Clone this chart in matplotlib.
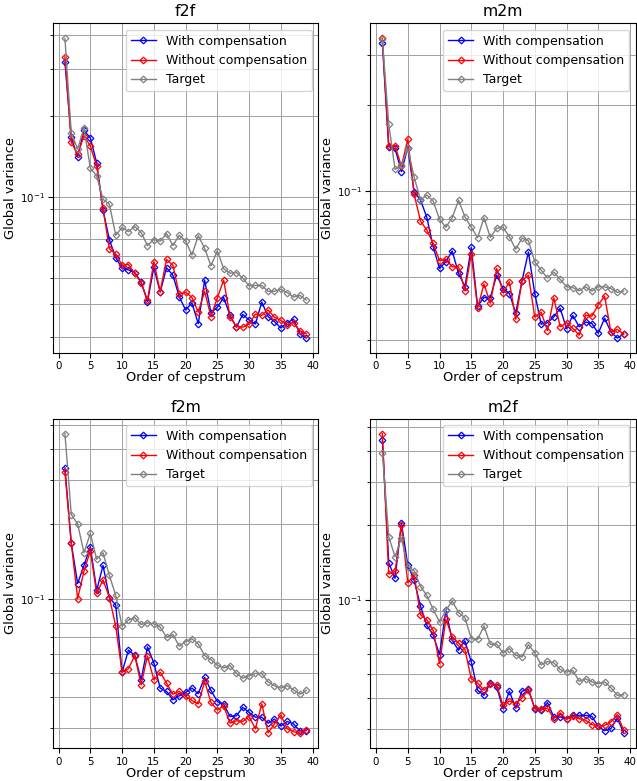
import numpy as np
import matplotlib
matplotlib.use("Agg")
import matplotlib.pyplot as plt

order = list(range(1, 40))

# f2f
f2f_with = [0.318, 0.167, 0.141, 0.177, 0.166, 0.134, 0.0892, 0.0693, 0.0594, 0.0542,
            0.0535, 0.0523, 0.0482, 0.0407, 0.0546, 0.0442, 0.0545, 0.0511, 0.0425, 0.0379,
            0.0403, 0.0337, 0.0490, 0.0370, 0.0388, 0.0422, 0.0362, 0.0327, 0.0365, 0.0348,
            0.0336, 0.0406, 0.0358, 0.0343, 0.0325, 0.0340, 0.0350, 0.0309, 0.0298]
f2f_without = [0.333, 0.160, 0.144, 0.169, 0.155, 0.130, 0.0908, 0.0641, 0.0612, 0.0557,
               0.0560, 0.0519, 0.0479, 0.0413, 0.0573, 0.0444, 0.0585, 0.0557, 0.0434, 0.0442,
               0.0422, 0.0372, 0.0445, 0.0358, 0.0421, 0.0490, 0.0358, 0.0329, 0.0327, 0.0336,
               0.0366, 0.0362, 0.0379, 0.0356, 0.0347, 0.0334, 0.0340, 0.0317, 0.0309]
f2f_target = [0.390, 0.173, 0.151, 0.181, 0.128, 0.120, 0.098, 0.094, 0.072, 0.077,
              0.0743, 0.0776, 0.0737, 0.0659, 0.0694, 0.0684, 0.0730, 0.0659, 0.0720, 0.0686,
              0.0608, 0.0718, 0.0643, 0.0554, 0.0630, 0.0540, 0.0520, 0.0523, 0.0499, 0.0466,
              0.0468, 0.0468, 0.0445, 0.0445, 0.0453, 0.0440, 0.0424, 0.0430, 0.0413]

# m2m
m2m_with = [0.330, 0.143, 0.141, 0.117, 0.142, 0.0995, 0.0930, 0.0809, 0.0638, 0.0535,
            0.0565, 0.0616, 0.0514, 0.0462, 0.0634, 0.0395, 0.0423, 0.0422, 0.0507, 0.0455,
            0.0437, 0.0373, 0.0485, 0.0611, 0.0437, 0.0341, 0.0345, 0.0362, 0.0388, 0.0329,
            0.0366, 0.0334, 0.0347, 0.0343, 0.0317, 0.0358, 0.0320, 0.0305, 0.0315]
m2m_without = [0.343, 0.144, 0.144, 0.122, 0.152, 0.0976, 0.0785, 0.0730, 0.0655, 0.0570,
               0.0577, 0.0542, 0.0542, 0.0447, 0.0601, 0.0388, 0.0472, 0.0404, 0.0535, 0.0440,
               0.0480, 0.0355, 0.0485, 0.0507, 0.0361, 0.0376, 0.0324, 0.0422, 0.0334, 0.0345,
               0.0330, 0.0312, 0.0367, 0.0364, 0.0399, 0.0428, 0.0320, 0.0327, 0.0315]
m2m_target = [0.340, 0.172, 0.119, 0.123, 0.141, 0.112, 0.0930, 0.0968, 0.0922, 0.0796,
              0.0746, 0.0806, 0.0928, 0.0812, 0.0747, 0.0686, 0.0806, 0.0688, 0.0740, 0.0747,
              0.0691, 0.0625, 0.0684, 0.0669, 0.0565, 0.0528, 0.0495, 0.0520, 0.0490, 0.0462,
              0.0458, 0.0447, 0.0461, 0.0446, 0.0462, 0.0461, 0.0455, 0.0441, 0.0446]

# f2m
f2m_with = [0.336, 0.167, 0.115, 0.136, 0.162, 0.108, 0.136, 0.101, 0.0942, 0.0505,
            0.0620, 0.0591, 0.0471, 0.0639, 0.0551, 0.0436, 0.0423, 0.0391, 0.0406, 0.0419,
            0.0436, 0.0414, 0.0482, 0.0427, 0.0385, 0.0376, 0.0335, 0.0337, 0.0365, 0.0348,
            0.0333, 0.0333, 0.0315, 0.0327, 0.0307, 0.0320, 0.0313, 0.0293, 0.0294]
f2m_without = [0.324, 0.167, 0.100, 0.129, 0.156, 0.105, 0.119, 0.101, 0.0775, 0.0505,
               0.0522, 0.0590, 0.0450, 0.0587, 0.0471, 0.0505, 0.0457, 0.0412, 0.0423, 0.0404,
               0.0389, 0.0377, 0.0464, 0.0382, 0.0356, 0.0370, 0.0315, 0.0322, 0.0320, 0.0335,
               0.0299, 0.0377, 0.0288, 0.0313, 0.0340, 0.0299, 0.0291, 0.0287, 0.0296]
f2m_target = [0.462, 0.218, 0.200, 0.153, 0.183, 0.144, 0.153, 0.124, 0.103, 0.0775,
              0.0820, 0.0838, 0.0787, 0.0799, 0.0792, 0.0768, 0.0700, 0.0717, 0.0643, 0.0671,
              0.0689, 0.0657, 0.0590, 0.0568, 0.0539, 0.0526, 0.0537, 0.0501, 0.0478, 0.0489,
              0.0500, 0.0499, 0.0462, 0.0446, 0.0436, 0.0446, 0.0429, 0.0412, 0.0427]

# m2f
m2f_with = [0.441, 0.141, 0.122, 0.204, 0.138, 0.120, 0.0942, 0.0787, 0.0718, 0.0599,
            0.0905, 0.0684, 0.0624, 0.0681, 0.0560, 0.0430, 0.0410, 0.0460, 0.0443, 0.0362,
            0.0426, 0.0364, 0.0426, 0.0434, 0.0362, 0.0357, 0.0383, 0.0335, 0.0335, 0.0330,
            0.0340, 0.0340, 0.0340, 0.0337, 0.0307, 0.0295, 0.0301, 0.0332, 0.0288]
m2f_without = [0.470, 0.127, 0.130, 0.200, 0.117, 0.126, 0.0869, 0.0829, 0.0751, 0.0551,
               0.0832, 0.0706, 0.0668, 0.0628, 0.0479, 0.0460, 0.0430, 0.0457, 0.0453, 0.0373,
               0.0389, 0.0379, 0.0401, 0.0430, 0.0364, 0.0360, 0.0364, 0.0330, 0.0348, 0.0328,
               0.0337, 0.0330, 0.0325, 0.0312, 0.0307, 0.0310, 0.0320, 0.0342, 0.0296]
m2f_target = [0.393, 0.180, 0.149, 0.178, 0.136, 0.131, 0.113, 0.104, 0.0914, 0.0812,
              0.0905, 0.0988, 0.0886, 0.0845, 0.0695, 0.0691, 0.0782, 0.0659, 0.0661, 0.0608,
              0.0634, 0.0596, 0.0586, 0.0657, 0.0610, 0.0545, 0.0562, 0.0555, 0.0522, 0.0509,
              0.0517, 0.0467, 0.0478, 0.0465, 0.0457, 0.0465, 0.0440, 0.0410, 0.0412]

titles = ["f2f", "m2m", "f2m", "m2f"]
series = [
    (f2f_with, f2f_without, f2f_target),
    (m2m_with, m2m_without, m2m_target),
    (f2m_with, f2m_without, f2m_target),
    (m2f_with, m2f_without, m2f_target),
]

fig, axes = plt.subplots(2, 2, figsize=(6.37, 7.81), dpi=100)
fig.subplots_adjust(left=0.083, right=0.998, bottom=0.042, top=0.970,
                    wspace=0.196, hspace=0.199)

for ax, title, (w, wo, tg) in zip(axes.flat, titles, series):
    ax.plot(order, w, color="b", lw=1, marker="D", ms=3.4, mfc="none", mew=0.9,
            label="With compensation")
    ax.plot(order, wo, color="r", lw=1, marker="D", ms=3.4, mfc="none", mew=0.9,
            label="Without compensation")
    ax.plot(order, tg, color="gray", lw=1, marker="D", ms=3.4, mfc="none", mew=0.9,
            label="Target")
    ax.set_yscale("log")
    ax.set_xticks(range(0, 41, 5))
    ax.grid(True, which="both", color="#a0a0a0", lw=0.7)
    ax.set_title(title, fontsize=11.3, pad=5)
    ax.set_xlabel("Order of cepstrum", fontsize=9.4, labelpad=0)
    ax.set_ylabel("Global variance", fontsize=9.4, labelpad=2)
    ax.tick_params(labelsize=7.4, pad=2.5)
    ax.legend(loc="upper right", fontsize=9.0)

fig.savefig("out.png")
